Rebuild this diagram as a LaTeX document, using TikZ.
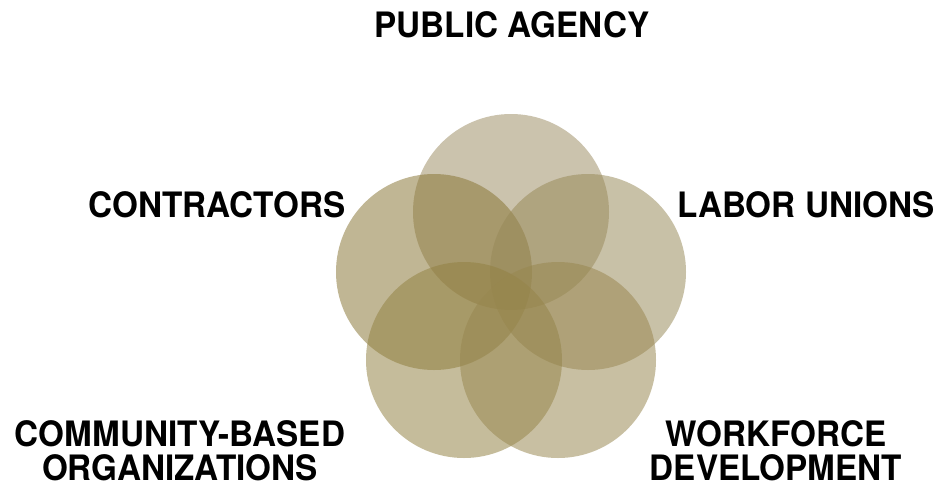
\documentclass[tikz,border=0pt]{standalone}
\usepackage{fontspec}
\setmainfont{TeX Gyre Heros}[FakeStretch=0.95]
\definecolor{agencytan}{RGB}{157,141,100}
\definecolor{contracttan}{RGB}{136,117,52}
\definecolor{uniontan}{RGB}{152,137,88}
\definecolor{communitytan}{RGB}{146,129,66}
\definecolor{workforcetan}{RGB}{152,135,80}
\begin{document}
\begin{tikzpicture}[
    x=1pt, y=-1pt,
    petal/.style={circle, minimum size=196pt, inner sep=0pt, fill opacity=0.53},
    lbl/.style={font=\bfseries\fontsize{35}{34}\selectfont, inner sep=0pt, align=center}
  ]
  \useasboundingbox (0,0) rectangle (942,485);

  % Circles
  \foreach \name/\x/\y/\col in {pub/511/212/agencytan, con/434/272/contracttan, lab/588/272/uniontan, com/464/360/communitytan, wrk/558/360/workforcetan} {
      \node[petal, fill=\col] (\name) at (\x,\y) {};
    }

  % Labels
  \node[lbl, anchor=base] (pubtext) at (512,37) {PUBLIC AGENCY};
  \node[lbl, anchor=base] (context) at (217,217) {CONTRACTORS};
  \node[lbl, anchor=base] (labtext) at (806,217) {LABOR UNIONS};
  \node[lbl] (comtext) at (180,451) {COMMUNITY-BASED\\ORGANIZATIONS};
  \node[lbl] (wrktext) at (776,451) {WORKFORCE\\DEVELOPMENT};

\end{tikzpicture}
\end{document}
